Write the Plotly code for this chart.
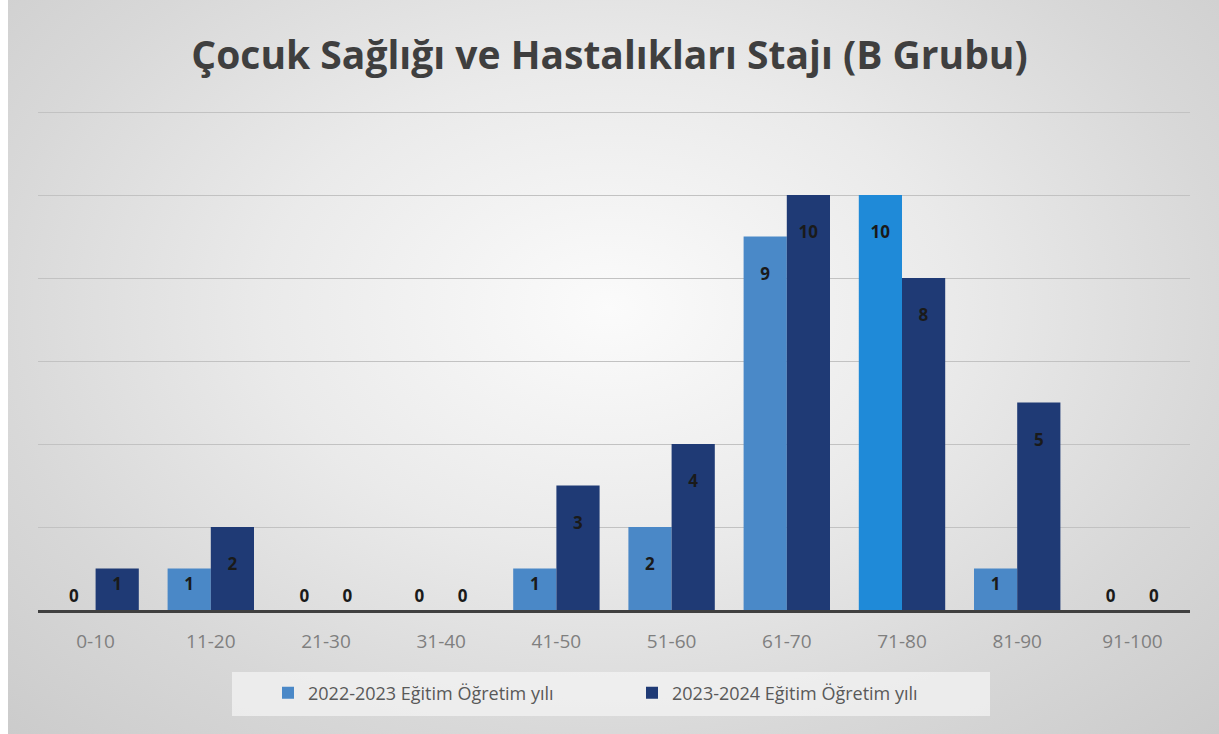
import plotly.graph_objects as go

# score bands
categories = ["0-10", "11-20", "21-30", "31-40", "41-50",
              "51-60", "61-70", "71-80", "81-90", "91-100"]

# student counts per band
y_2022 = [0, 1, 0, 0, 1, 2, 9, 10, 1, 0]
y_2023 = [1, 2, 0, 0, 3, 4, 10, 8, 5, 0]

series_names = ["2022-2023 Eğitim Öğretim yılı", "2023-2024 Eğitim Öğretim yılı"]
title_text = "Çocuk Sağlığı ve Hastalıkları Stajı (B Grubu)"

light_blue = ["#4a88c7", "#4a88c7", "#4a88c7", "#4a88c7", "#4a88c7",
              "#4a88c7", "#4a89c8", "#1f8ad8", "#4a88c7", "#4a88c7"]
navy = "#1f3a75"


def text_pos(vals):
    return ["outside" if v == 0 else "inside" for v in vals]


def text_tpl(vals):
    # taller bars: push the label a bit down from the bar top (inside end)
    return ["\u00a0<br>%{y}" if v >= 2 else "%{y}" for v in vals]


label_font = dict(family="Open Sans", size=17, color="#1a1a1a", weight="bold")

fig = go.Figure()

fig.add_trace(go.Bar(
    x=categories, y=y_2022, name=series_names[0],
    marker=dict(color=light_blue, line=dict(width=0)),
    texttemplate=text_tpl(y_2022), textposition=text_pos(y_2022),
    insidetextanchor="end", textfont=label_font,
    cliponaxis=False,
))

fig.add_trace(go.Bar(
    x=categories, y=y_2023, name=series_names[1],
    marker=dict(color=navy, line=dict(width=0)),
    texttemplate=text_tpl(y_2023), textposition=text_pos(y_2023),
    insidetextanchor="end", textfont=label_font,
    cliponaxis=False,
))

# legend box drawn behind the legend
fig.add_shape(
    type="rect", xref="paper", yref="paper", layer="below",
    x0=(232 - 38) / 1152, x1=(990 - 38) / 1152,
    y0=-(716 - 610) / 502, y1=-(672 - 610) / 502,
    fillcolor="rgba(245,245,245,0.7)", line=dict(width=0),
)

fig.update_layout(
    width=1219, height=734,
    margin=dict(l=38, r=29, t=108, b=124),
    paper_bgcolor="rgba(0,0,0,0)",
    plot_bgcolor="rgba(0,0,0,0)",
    barmode="group", bargap=0.25, bargroupgap=0,
    title=dict(
        text=title_text, x=0.5, xanchor="center", y=0.925, yanchor="middle",
        font=dict(family="Open Sans", size=39, color="#3f3f3f", weight="bold"),
    ),
    legend=dict(
        orientation="h", x=(268 - 38) / 1152, xanchor="left",
        y=-(693 - 610) / 502, yanchor="middle",
        bgcolor="rgba(0,0,0,0)",
        font=dict(family="Open Sans", size=18, color="#595959"),
        itemwidth=30, entrywidthmode="pixels", entrywidth=319,
    ),
    font=dict(family="Open Sans"),
    uniformtext=dict(minsize=8, mode="show"),
)

fig.update_xaxes(
    showline=True, linecolor="#404040", linewidth=3,
    tickfont=dict(size=19, color="#7f7f7f"), ticks="",
    ticklabelstandoff=12,
    showgrid=False,
)
fig.update_yaxes(
    range=[0, 12.1], dtick=2, showticklabels=False,
    showgrid=True, gridcolor="#c2c2c2", gridwidth=1,
    zeroline=False,
)

# page background: soft radial gradient like the source picture
post_js = """
var gd = document.getElementById('{plot_id}');
gd.style.background = 'linear-gradient(to right, #ffffff 0px, #ffffff 8px, rgba(255,255,255,0) 8px), '
  + 'radial-gradient(ellipse at 50% 42%, #fbfbfb 0%, #eaeaea 40%, #d8d8d8 72%, #cbcbcb 100%)';
document.body.style.margin = '0';
"""

fig.write_html("out.html", post_script=post_js, config={"displayModeBar": False})
